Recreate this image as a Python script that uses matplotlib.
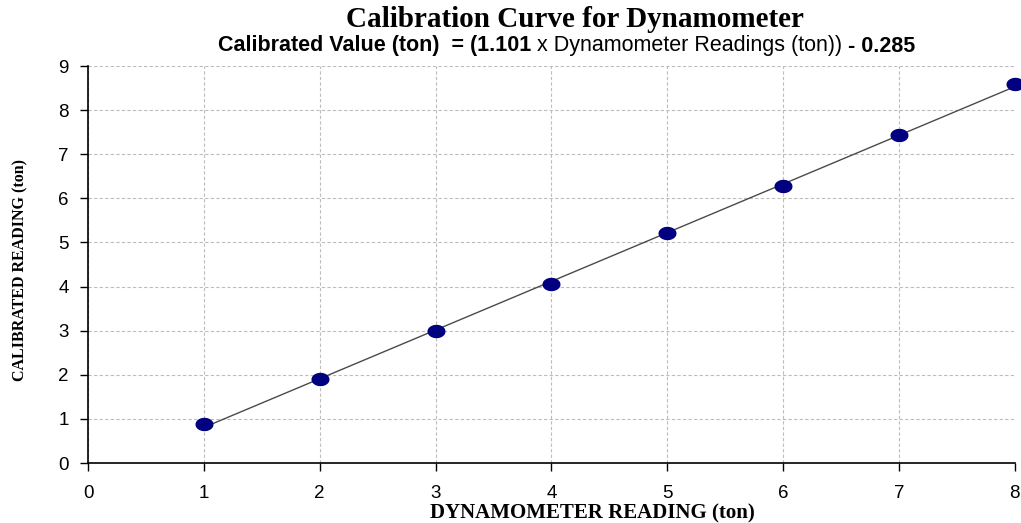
import matplotlib
matplotlib.use("Agg")
import matplotlib.pyplot as plt
import numpy as np
from matplotlib.path import Path

# Messwerte: Dynamometer-Ablesung vs. kalibrierter Wert
dyn_reading = [1, 2, 3, 4, 5, 6, 7, 8]
calibrated = [0.88, 1.90, 2.99, 4.06, 5.22, 6.28, 7.44, 8.59]
x_ticks = [0, 1, 2, 3, 4, 5, 6, 7, 8]
y_ticks = [0, 1, 2, 3, 4, 5, 6, 7, 8, 9]

title = "Calibration Curve for Dynamometer"
subtitle_parts = [("Calibrated Value (ton)  = (1.101", "bold"),
                  (" x Dynamometer Readings (ton))", "normal"),
                  (" - 0.285", "bold")]

fig = plt.figure(figsize=(10.21, 5.23), dpi=100)
ax = fig.add_axes([0.0862, 0.1147, 0.9078, 0.7591])

# Trendlinie (lineare Regression)
slope, intercept = np.polyfit(dyn_reading, calibrated, 1)
xs = np.array([dyn_reading[0], dyn_reading[-1]])
ax.plot(xs, slope * xs + intercept, color="#4a4a4a", lw=1.0, zorder=2)

# leicht elliptischer Marker wie im Original
t = np.linspace(0, 2 * np.pi, 40)
ellipse = Path(np.column_stack([np.cos(t), 0.72 * np.sin(t)]))
ax.plot(dyn_reading, calibrated, ls="none", marker=ellipse, markersize=12,
        color="#000080", zorder=3, clip_on=False)

ax.set_xlim(0, 8)
ax.set_ylim(0, 9)
ax.set_xticks(x_ticks)
ax.set_yticks(y_ticks)
ax.tick_params(axis="both", direction="out", length=6, width=1.0,
               labelsize=13.5, pad=8)
for lab in ax.get_xticklabels() + ax.get_yticklabels():
    lab.set_family("Liberation Sans")

ax.grid(True, color="#bdbdbd", ls=(0, (3, 2)), lw=0.8)
ax.set_axisbelow(True)
for s in ["top", "right"]:
    ax.spines[s].set_visible(False)
for s in ["left", "bottom"]:
    ax.spines[s].set_linewidth(1.2)
ax.tick_params(axis="x", pad=10)

ax.set_xlabel("DYNAMOMETER READING (ton)", family="Liberation Serif",
              fontweight="bold", fontsize=15, va="center")
ax.xaxis.set_label_coords(0.544, -0.126)
ax.set_ylabel("CALIBRATED READING (ton)", family="Liberation Serif",
              fontweight="bold", fontsize=11.5, va="center")
ax.yaxis.set_label_coords(-0.073, 0.486)

fig.text(0.563, 0.962, title, family="Liberation Serif", fontweight="bold",
         fontsize=21, ha="center", va="center")

# Untertitel aus Teilen mit unterschiedlicher Schriftstaerke
renderer = fig.canvas.get_renderer()
pieces = []
total = 0
for txt, w in subtitle_parts:
    tx = fig.text(0, 0, txt, family="Liberation Sans", fontweight=w, fontsize=15.5)
    width = tx.get_window_extent(renderer).width
    pieces.append((tx, width))
    total += width
x0 = 566.5 - total / 2
for tx, width in pieces:
    tx.set_position((x0 / 1021, 1 - 46 / 523))
    tx.set_va("center")
    x0 += width

fig.savefig("out.png", dpi=100)
